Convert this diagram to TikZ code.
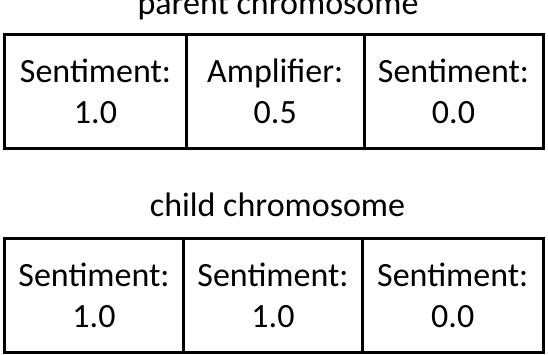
\documentclass[tikz,border=0pt]{standalone}
\usepackage{fontspec}
\setmainfont{Carlito}
\usetikzlibrary{positioning}
\newcommand{\genefont}{\fontsize{34}{41}\selectfont}

\begin{document}
\begin{tikzpicture}[
  x=1pt,y=-1pt,
  every node/.style={font=\genefont,text=black},
  gene/.style={draw,line width=3pt,minimum height=114pt,inner sep=0pt,
    outer sep=0pt,align=center,execute at begin node=\rule{0pt}{27pt}},
  title/.style={anchor=base}
]
  \useasboundingbox (0,0) rectangle (548,354);
  \clip (0,0) rectangle (548,354);
  \node[title] (ptitle) at (278,14) {parent chromosome};
  \node[gene,minimum width=182pt] (p1) at (95.5,91.5) {Sentiment:\\1.0};
  \node[gene,minimum width=177.5pt,right=0pt of p1] (p2) {Amplifier:\\0.5};
  \node[gene,minimum width=179pt,right=0pt of p2] (p3) {Sentiment:\\0.0};

  \node[title] (ctitle) at (277.5,216) {child chromosome};
  \node[gene,minimum width=179pt,minimum height=114.5pt] (c1) at (94,295.25) {Sentiment:\\1.0};
  \node[gene,minimum width=179pt,minimum height=114.5pt,right=0pt of c1] (c2) {Sentiment:\\1.0};
  \node[gene,minimum width=180.5pt,minimum height=114.5pt,right=0pt of c2] (c3) {Sentiment:\\0.0};
\end{tikzpicture}
\end{document}
